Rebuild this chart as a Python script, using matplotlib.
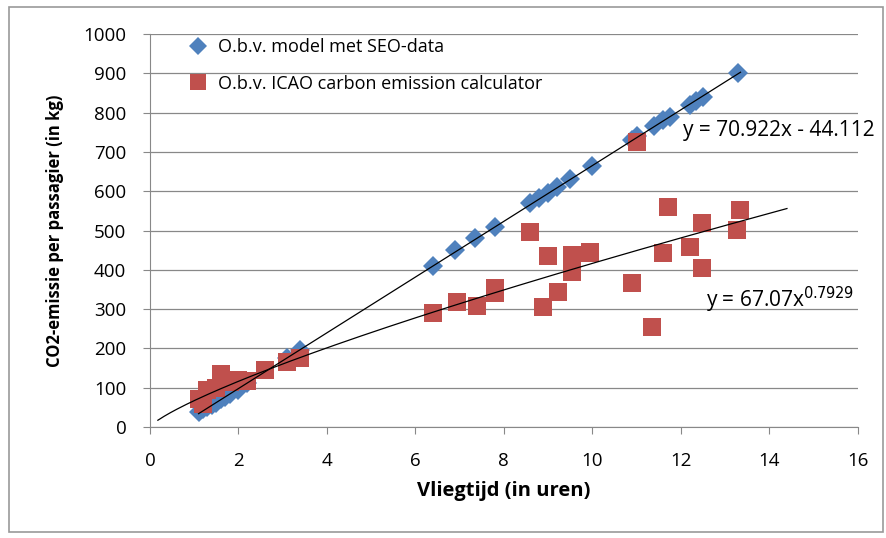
import numpy as np
import matplotlib.pyplot as plt
from matplotlib.patches import Rectangle

# O.b.v. model met SEO-data
seo_x = [1.1, 1.2, 1.3, 1.4, 1.5, 1.6, 1.7, 1.8, 2.0, 2.2, 3.1, 3.4,
         6.4, 6.9, 7.35, 7.8, 8.6, 8.8, 9.0, 9.2, 9.5, 10.0,
         10.9, 11.0, 11.4, 11.6, 11.75, 12.2, 12.35, 12.5, 13.3]
seo_y = [38, 45, 50, 55, 62, 70, 76, 85, 95, 112, 175, 195,
         410, 450, 480, 510, 570, 582, 595, 610, 630, 665,
         730, 740, 765, 780, 790, 820, 830, 840, 900]

# O.b.v. ICAO carbon emission calculator
icao_x = [1.1, 1.2, 1.3, 1.5, 1.6, 1.8, 2.0, 2.2, 2.6, 3.1, 3.4,
          6.4, 6.94, 7.39, 7.8, 7.8, 8.6, 8.88, 9.0, 9.22, 9.53, 9.54, 9.94, 9.94,
          10.9, 11.0, 11.35, 11.6, 11.7, 12.2, 12.47, 12.47, 13.26, 13.33]
icao_y = [70, 58, 95, 100, 135, 115, 120, 118, 145, 165, 175,
          290, 318, 308, 354, 340, 496, 305, 435, 343, 394, 437, 445, 443,
          366, 725, 254, 443, 560, 458, 519, 405, 501, 552]

lin_a, lin_b = 70.922, -44.112
pow_a, pow_b = 67.07, 0.7929

plt.rcParams['font.family'] = ['Open Sans', 'DejaVu Sans']

fig = plt.figure(figsize=(8.87, 5.38), dpi=100)
ax = fig.add_axes([0.169, 0.2063, 0.798, 0.7305])

ax.plot(seo_x, seo_y, 'D', color='#4F81BD', markersize=10.5, markeredgewidth=0,
        label='O.b.v. model met SEO-data', zorder=3)
ax.plot(icao_x, icao_y, 's', color='#C0504D', markersize=13, markeredgewidth=0,
        label='O.b.v. ICAO carbon emission calculator', zorder=3)

xl = np.linspace(1.1, 13.35, 50)
ax.plot(xl, lin_a * xl + lin_b, color='black', linewidth=0.9, zorder=4)
xp = np.linspace(0.18, 14.4, 200)
ax.plot(xp, pow_a * xp ** pow_b, color='black', linewidth=0.9, zorder=4)

ax.text(12.05, 755, 'y = 70.922x - 44.112', fontsize=15, va='center', clip_on=False)
ax.text(12.56, 323, 'y = 67.07x$^{0.7929}$', fontsize=15, va='center')

ax.set_xlim(0, 16)
ax.set_ylim(0, 1000)
ax.set_xticks(range(0, 17, 2))
ax.set_yticks(range(0, 1001, 100))
ax.grid(axis='y', color='#888888', linewidth=0.9)
ax.set_axisbelow(True)
for s in ['top', 'right']:
    ax.spines[s].set_visible(False)
for s in ['left', 'bottom']:
    ax.spines[s].set_color('#888888')
ax.tick_params(labelsize=13.5, colors='black', length=5, color='#888888')
ax.tick_params(axis='x', pad=13)
ax.tick_params(axis='y', pad=12)

ax.set_xlabel('Vliegtijd (in uren)', fontsize=14.5, fontweight='bold', labelpad=8)
ax.set_ylabel('CO2-emissie per passagier (in kg)', fontsize=12, fontweight='bold', labelpad=14)

ax.legend(loc='upper left', bbox_to_anchor=(0.03, 1.03), frameon=False, fontsize=13,
          handletextpad=0.5, labelspacing=1.0, handlelength=1.2, markerscale=0.85)

fig.patches.append(Rectangle((0.01, 0.012), 0.985, 0.975, transform=fig.transFigure,
                             fill=False, edgecolor='#999999', linewidth=1.2))

fig.savefig('out.png', dpi=100)
